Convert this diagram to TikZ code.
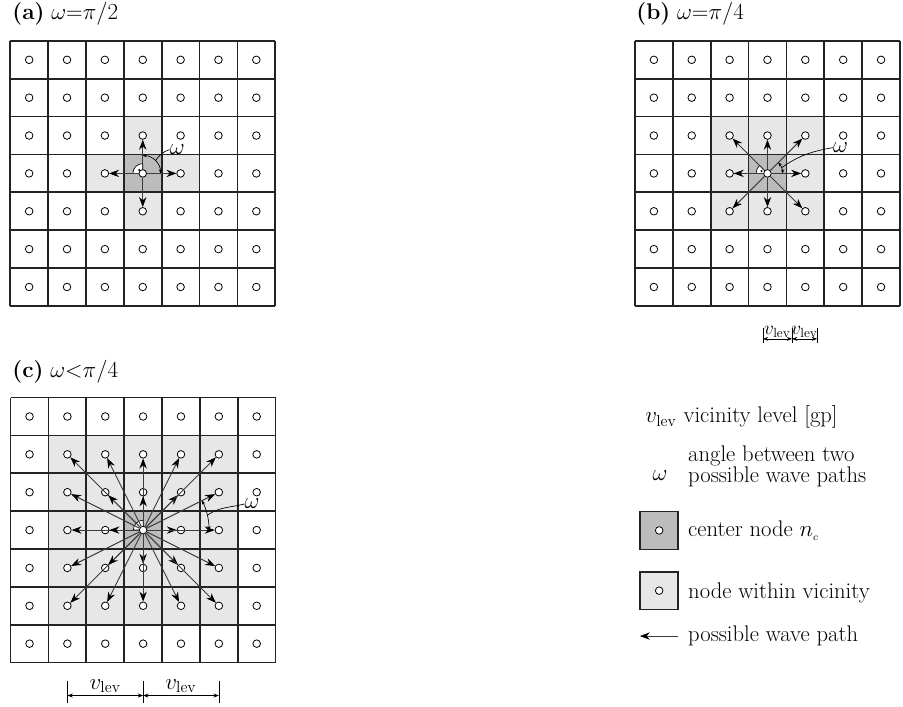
\documentclass[tikz,border=0pt]{standalone}
\usetikzlibrary{arrows.meta,calc}
\definecolor{VicinityClr}{RGB}{231,231,231}
\definecolor{CenterClr}{RGB}{188,188,188}
\definecolor{GridClr}{RGB}{35,35,35}
\definecolor{PathClr}{RGB}{60,60,60}
\tikzset{
  gp/.style={circle,draw=black,fill=white,line width=0.6pt,inner sep=0pt,minimum size=0.2cm},
  gridline/.style={draw=GridClr,line width=1.3pt},
  wavepath/.style={draw=PathClr,line width=0.7pt,-{Stealth[length=7.5pt,width=5.5pt,color=black]}},
  anglearc/.style={line width=0.5pt,{Stealth[length=3pt,width=2.5pt]}-{Stealth[length=3pt,width=2.5pt]}},
  leader/.style={line width=0.5pt},
  rightmark/.style={draw=black,fill=white,line width=0.5pt},
  lbl/.style={font=\fontsize{17}{16}\selectfont,inner sep=0pt},
  dimline/.style={line width=0.5pt,{Stealth[length=4pt,width=3pt]}-{Stealth[length=4pt,width=3pt]}},
  dimtick/.style={line width=0.5pt},
  legbox/.style={draw=GridClr,line width=1.3pt,minimum size=1cm,inner sep=0pt},
}

\begin{document}
\begin{tikzpicture}
\useasboundingbox (0,0) rectangle (23.85,-18.65);

% (a) omega = pi/2
\begin{scope}[shift={(0.27,-1.08)}]
  \fill[VicinityClr] (2,-3) rectangle (5,-4) (3,-2) rectangle (4,-5);
  \fill[CenterClr] (3,-3) rectangle (4,-4);
  \draw[gridline] (0,0) grid (7,-7);
  \filldraw[rightmark] (3.5,-3.5) -- ++(90:0.26) arc (90:180:0.26) -- cycle;
  \fill (3.5,-3.5) ++(135:0.13) circle (0.03);
  \foreach \i in {0,...,6}
    \foreach \j in {0,...,6}
      \node[gp] (a-\i-\j) at (\i+0.5,-\j-0.5) {};
\end{scope}
\foreach \n in {3-2,2-3,4-3,3-4}
  \draw[wavepath] (a-3-3) -- (a-\n);
\draw[anglearc] ($(a-3-3)+(0:0.47)$) arc (0:90:0.47);
\node[lbl] (omA) at ($(a-3-3)+(0.91,0.63)$) {$\omega$};
\draw[leader] ($(a-3-3)+(45:0.47)$) to[out=55,in=200] (omA.west);
\node[lbl,anchor=base west] (tA) at (0.32,-0.51) {\textbf{(a)} $\omega{=}\pi/2$};

% (b) omega = pi/4
\begin{scope}[shift={(16.77,-1.08)}]
  \fill[VicinityClr] (2,-2) rectangle (5,-5);
  \fill[CenterClr] (3,-3) rectangle (4,-4);
  \draw[gridline] (0,0) grid (7,-7);
  \filldraw[rightmark] (3.5,-3.5) -- ++(135:0.3) arc (135:180:0.3) -- cycle;
  \fill (3.5,-3.5) ++(158:0.17) circle (0.03);
  \foreach \i in {0,...,6}
    \foreach \j in {0,...,6}
      \node[gp] (b-\i-\j) at (\i+0.5,-\j-0.5) {};
\end{scope}
\foreach \i/\j in {2/2,3/2,4/2,2/3,4/3,2/4,3/4,4/4}
  \draw[wavepath] (b-3-3) -- (b-\i-\j);
\draw[anglearc] ($(b-3-3)+(0:0.4)$) arc (0:45:0.4);
\node[lbl] (omB) at ($(b-3-3)+(1.93,0.68)$) {$\omega$};
\draw[leader] ($(b-3-3)+(22:0.4)$) to[out=35,in=190] (omB.west);
\node[lbl,anchor=base west] (tB) at (16.8,-0.51) {\textbf{(b)} $\omega{=}\pi/4$};

\coordinate (bd1) at (20.15,-8.95);
\coordinate (bd2) at (20.92,-8.95);
\coordinate (bd3) at (21.58,-8.95);
\foreach \p in {bd1,bd2,bd3}
  \draw[dimtick] ($(\p)+(0,0.3)$) -- ($(\p)+(0,-0.12)$);
\draw[dimline] (bd1) -- (bd2);
\draw[dimline] (bd2) -- (bd3);
\node[lbl,anchor=south,font=\fontsize{14}{14}\selectfont] (vB1) at ($(bd1)!0.5!(bd2)+(0,0.04)$) {$v_{\mathrm{lev}}$};
\node[lbl,anchor=south,font=\fontsize{14}{14}\selectfont] (vB2) at ($(bd2)!0.5!(bd3)+(0,0.04)$) {$v_{\mathrm{lev}}$};

% (c) omega < pi/4
\begin{scope}[shift={(0.28,-10.5)}]
  \fill[VicinityClr] (1,-1) rectangle (6,-6);
  \fill[CenterClr] (3,-3) rectangle (4,-4);
  \draw[gridline] (0,0) grid (7,-7);
  \filldraw[rightmark] (3.5,-3.5) -- ++(90:0.26) arc (90:180:0.26) -- cycle;
  \foreach \i in {0,...,6}
    \foreach \j in {0,...,6}
      \node[gp] (c-\i-\j) at (\i+0.5,-\j-0.5) {};
\end{scope}
\foreach \i in {1,...,5}
  \foreach \j in {1,...,5}
    {\ifnum\i\j=33 \else \draw[wavepath] (c-3-3) -- (c-\i-\j); \fi}
\draw[anglearc] ($(c-3-3)+(0:1.74)$) arc (0:26.57:1.74);
\node[lbl] (omC) at ($(c-3-3)+(2.88,0.69)$) {$\omega$};
\draw[leader] ($(c-3-3)+(13:1.74)$) to[out=35,in=195] (omC.west);
\node[lbl,anchor=base west] (tC) at (0.32,-9.96) {\textbf{(c)} $\omega{<}\pi/4$};

\coordinate (cd1) at ($(c-1-6)+(0,-1.37)$);
\coordinate (cd2) at ($(c-3-6)+(0,-1.37)$);
\coordinate (cd3) at ($(c-5-6)+(0,-1.37)$);
\foreach \p in {cd1,cd2,cd3}
  \draw[dimtick] ($(\p)+(0,0.39)$) -- ($(\p)+(0,-0.19)$);
\draw[dimline] (cd1) -- (cd2);
\draw[dimline] (cd2) -- (cd3);
\node[lbl,anchor=south] (vC1) at ($(cd1)!0.5!(cd2)+(0,0.06)$) {$v_{\mathrm{lev}}$};
\node[lbl,anchor=south] (vC2) at ($(cd2)!0.5!(cd3)+(0,0.06)$) {$v_{\mathrm{lev}}$};

% legend
\node[lbl,anchor=base west] (lgV) at (17.04,-11.17) {$v_{\mathrm{lev}}$ vicinity level [gp]};
\node[lbl] (lgW) at (17.43,-12.57) {$\omega$};
\node[lbl,anchor=base west] (lgW1) at (18.17,-12.19) {angle between two};
\node[lbl,anchor=base west] (lgW2) at (18.17,-12.75) {possible wave paths};
\node[legbox,fill=CenterClr] (lgC) at (17.41,-14.01) {};
\node[gp] (lgCn) at (lgC) {};
\node[lbl,anchor=base west] (lgCt) at (18.17,-14.18) {center node $n_{\scriptscriptstyle c}$};
\node[legbox,fill=VicinityClr] (lgN) at (17.41,-15.60) {};
\node[gp] (lgNn) at (lgN) {};
\node[lbl,anchor=base west] (lgNt) at (18.17,-15.80) {node within vicinity};
\coordinate (lgP1) at (17.9,-16.8);
\coordinate (lgP0) at (16.9,-16.8);
\draw[wavepath] (lgP1) -- (lgP0);
\node[lbl,anchor=base west] (lgPt) at (18.17,-16.95) {possible wave path};

\end{tikzpicture}
\end{document}
